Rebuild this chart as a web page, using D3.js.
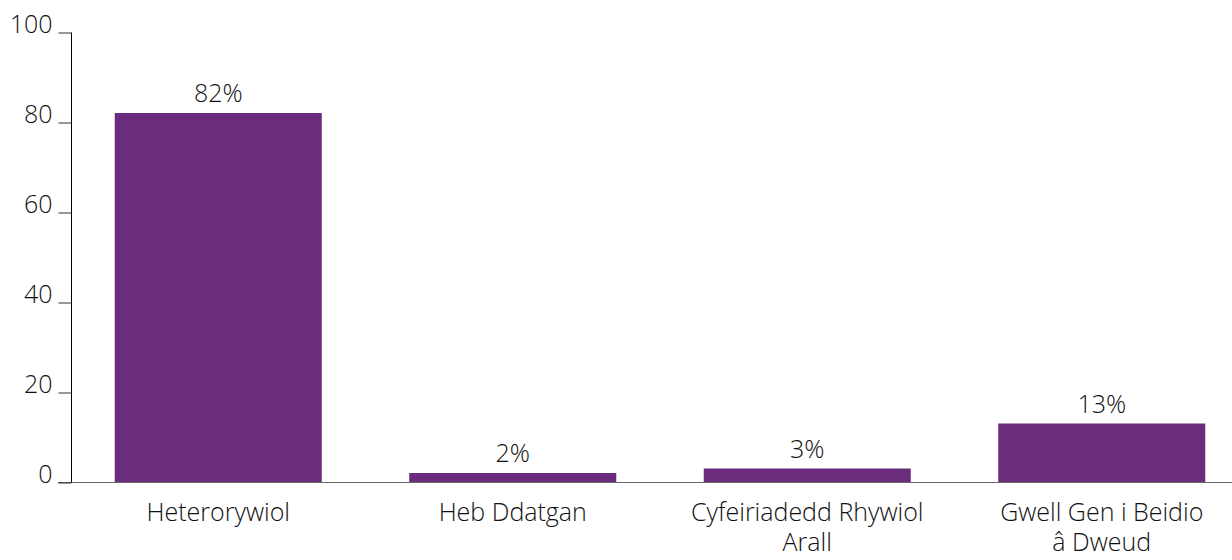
<!DOCTYPE html>
<html>
<head>
<meta charset="utf-8">
<script src="https://cdn.jsdelivr.net/npm/d3@7"></script>
<style>
  html, body { margin: 0; padding: 0; background: #fff; }
  svg { display: block; }
  text { font-family: "Open Sans", "Noto Sans", sans-serif; font-weight: 300; fill: #111; }
</style>
</head>
<body>
<svg id="chart" width="1232" height="560"></svg>
<script>
const categories = ["Heterorywiol", "Heb Ddatgan", "Cyfeiriadedd Rhywiol\nArall", "Gwell Gen i Beidio\nâ Dweud"];
const values = [82, 2, 3, 13];
const yTicks = [0, 20, 40, 60, 80, 100];

const svg = d3.select("#chart");
const x0 = 71, x1 = 1249, yTop = 32, yBottom = 482;
const fontSize = 25;

const x = d3.scaleBand().domain(categories).range([x0, x1]).paddingInner(0.297).paddingOuter(0.1485);
const y = d3.scaleLinear().domain([0, 100]).range([yBottom, yTop]);

// baseline
svg.append("line")
  .attr("x1", 58).attr("x2", 1232)
  .attr("y1", y(0) + 0.5).attr("y2", y(0) + 0.5)
  .attr("stroke", "#666").attr("stroke-width", 1);

// y axis
const yAxis = d3.axisLeft(y).tickValues(yTicks).tickSize(13).tickPadding(6).tickFormat(d3.format("d"));
const gy = svg.append("g").attr("transform", `translate(${x0 + 0.5},0.5)`).call(yAxis);
gy.select(".domain").attr("stroke", "#000").attr("d", `M0,${y(0)}V${y(100)}`);
gy.selectAll(".tick line").attr("stroke", "#333");
gy.selectAll(".tick text")
  .attr("dy", "0")
  .style("font-size", fontSize + "px")
  .style("font-family", "'Open Sans', sans-serif")
  .style("font-weight", 300)
  .attr("fill", "#111");

// bars
svg.append("g").selectAll("rect").data(values).join("rect")
  .attr("x", (d, i) => x(categories[i]))
  .attr("y", d => y(d))
  .attr("width", x.bandwidth())
  .attr("height", d => y(0) - y(d))
  .attr("fill", "#6B2C7E");

// value labels
svg.append("g").selectAll("text").data(values).join("text")
  .attr("x", (d, i) => x(categories[i]) + x.bandwidth() / 2)
  .attr("y", d => y(d) - 11)
  .attr("text-anchor", "middle")
  .style("font-size", fontSize + "px")
  .text(d => d + "%");

// category labels
const cat = svg.append("g").selectAll("text").data(categories).join("text")
  .attr("x", d => x(d) + x.bandwidth() / 2)
  .attr("y", 521)
  .attr("text-anchor", "middle")
  .style("font-size", fontSize + "px");
cat.each(function(d) {
  const t = d3.select(this);
  d.split("\n").forEach((line, i) => {
    t.append("tspan").attr("x", t.attr("x")).attr("dy", i === 0 ? 0 : 30).text(line);
  });
});
</script>
</body>
</html>
